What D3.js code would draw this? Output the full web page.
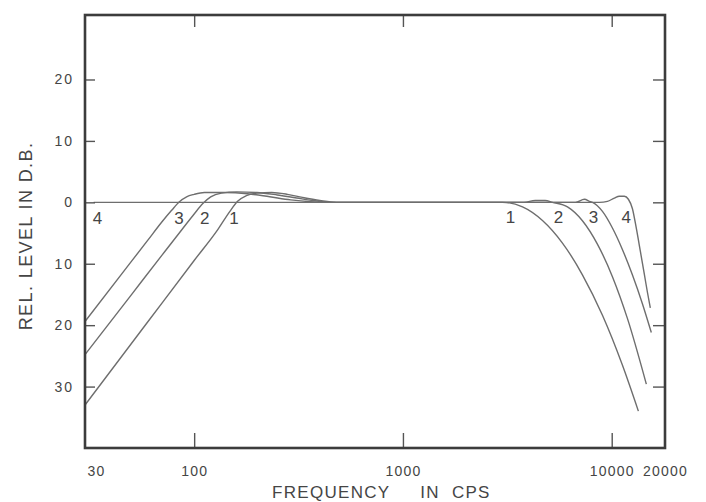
<!DOCTYPE html>
<html>
<head>
<meta charset="utf-8">
<script src="https://cdn.jsdelivr.net/npm/d3@7"></script>
<style>
  html, body { margin: 0; padding: 0; background: #fff; }
  svg { display: block; }
  text { font-family: "Liberation Sans", "DejaVu Sans", sans-serif; fill: #454545; }
</style>
</head>
<body>
<div id="chart"></div>
<script>
const width = 706;
const height = 502;

// axis values
const freqTicks = [30, 100, 1000, 10000, 20000];
const freqTickLabels = ["30", "100", "1000", "10000", "20000"];
const innerFreqTicks = [100, 1000, 10000];
const dbTicks = [20, 10, 0, -10, -20, -30];
const dbTickLabels = ["20", "10", "0", "10", "20", "30"];

// response curves, [frequency in cps, level in dB]
const curve1 = [
  [30, -33], [60, -19.45], [100, -9.47], [130, -4.4], [148, -1.5], [162, 0.2], [178, 1.1],
  [200, 1.5], [235, 1.6], [280, 1.3], [330, 0.8], [400, 0.3], [480, 0], [3000, 0],
  [3740, -0.73], [4660, -2.95], [5810, -6.63], [7240, -11.8], [9030, -18.4],
  [11250, -26.5], [13420, -34.0]
];
const curve2 = [
  [30, -24.8], [50, -15.06], [70, -8.64], [88, -4.3], [100, -1.9], [110, -0.2], [120, 0.9],
  [135, 1.5], [160, 1.7], [200, 1.6], [250, 1.2], [310, 0.7], [380, 0.25], [450, 0],
  [3800, 0], [4300, 0.3], [4800, 0.3], [5200, 0], [6140, -0.75], [7240, -3.0],
  [8540, -6.8], [10080, -12.1], [11890, -18.9], [14650, -29.6]
];
const curve3 = [
  [30, -19.4], [45, -11.65], [60, -6.16], [70, -3.2], [78, -1.3], [85, 0.1], [92, 0.9],
  [100, 1.3], [112, 1.6], [140, 1.6], [180, 1.4], [230, 0.9], [290, 0.4], [360, 0.1],
  [420, 0], [6700, 0], [7400, 0.5], [7900, 0.1], [8090, 0], [9030, -1.48],
  [10080, -4.18], [11250, -7.67], [12560, -11.8], [14030, -16.5], [15480, -21.2]
];
const curve4 = [
  [33, 0], [8735, 0], [9540, 0.15], [10300, 0.7], [10880, 1.0], [11500, 1.0],
  [12020, 0.5], [12560, -1.0], [13130, -4.3], [13720, -8.0], [14330, -11.7],
  [14820, -14.6], [15310, -17.2]
];
const curves = [curve1, curve2, curve3, curve4];

// curve numbers written on the chart
const labelText = ["4", "3", "2", "1", "1", "2", "3", "4"];
const labelFreq = [34.4, 84.5, 112.5, 155, 3275, 5560, 8170, 11750];
const labelDb = [-2.7, -2.7, -2.7, -2.7, -2.4, -2.4, -2.4, -2.4];

const x = d3.scaleLog().domain([30, 18000]).range([85, 665]).clamp(true);
const y = d3.scaleLinear().domain([-40, 30.5]).range([448, 15]);

const svg = d3.select("#chart")
  .append("svg")
  .attr("width", width)
  .attr("height", height)
  .attr("viewBox", `0 0 ${width} ${height}`);

const line = d3.line()
  .curve(d3.curveMonotoneX)
  .x(d => x(d[0]))
  .y(d => y(d[1]));

svg.append("g")
  .selectAll("path")
  .data(curves)
  .join("path")
  .attr("d", line)
  .attr("fill", "none")
  .attr("stroke", "#6e6e6e")
  .attr("stroke-width", 1.4);

// inner tick marks on all four sides
function styleTicks(g) {
  g.select(".domain").remove();
  g.selectAll(".tick line").attr("stroke", "#555").attr("stroke-width", 1.4);
}

svg.append("g")
  .attr("transform", `translate(0,${y.range()[0]})`)
  .call(d3.axisBottom(x).tickValues(innerFreqTicks).tickFormat("").tickSizeInner(-15).tickSizeOuter(0))
  .call(styleTicks);

svg.append("g")
  .attr("transform", `translate(0,${y.range()[1]})`)
  .call(d3.axisTop(x).tickValues(innerFreqTicks).tickFormat("").tickSizeInner(-12).tickSizeOuter(0))
  .call(styleTicks);

svg.append("g")
  .attr("transform", `translate(${x.range()[0]},0)`)
  .call(d3.axisLeft(y).tickValues(dbTicks).tickFormat("").tickSizeInner(-10).tickSizeOuter(0))
  .call(styleTicks);

svg.append("g")
  .attr("transform", `translate(${x.range()[1]},0)`)
  .call(d3.axisRight(y).tickValues(dbTicks).tickFormat("").tickSizeInner(-12).tickSizeOuter(0))
  .call(styleTicks);

// tick labels
const xLab = svg.append("g")
  .attr("transform", `translate(0,${y.range()[0]})`)
  .call(d3.axisBottom(x).tickValues(freqTicks).tickFormat((d, i) => freqTickLabels[i]).tickSize(0).tickPadding(18));
xLab.select(".domain").remove();
xLab.selectAll("text")
  .attr("font-size", 14)
  .attr("letter-spacing", 1.2)
  .attr("font-family", null)
  .attr("fill", null);
xLab.select(".tick text").attr("text-anchor", "start").attr("dx", 2);

const yLab = svg.append("g")
  .attr("transform", `translate(${x.range()[0]},0)`)
  .call(d3.axisLeft(y).tickValues(dbTicks).tickFormat((d, i) => dbTickLabels[i]).tickSize(0).tickPadding(11));
yLab.select(".domain").remove();
yLab.selectAll("text")
  .attr("font-size", 14)
  .attr("letter-spacing", 2)
  .attr("font-family", null)
  .attr("fill", null);

// frame
svg.append("rect")
  .attr("x", x.range()[0])
  .attr("y", y.range()[1])
  .attr("width", x.range()[1] - x.range()[0])
  .attr("height", y.range()[0] - y.range()[1])
  .attr("fill", "none")
  .attr("stroke", "#3c3c3c")
  .attr("stroke-width", 2.6);

// curve numbers
svg.append("g")
  .selectAll("text")
  .data(labelText)
  .join("text")
  .attr("x", (d, i) => x(labelFreq[i]))
  .attr("y", (d, i) => y(labelDb[i]))
  .attr("text-anchor", "middle")
  .attr("dominant-baseline", "central")
  .attr("font-size", 17)
  .text(d => d);

// axis titles
svg.append("text")
  .attr("transform", "translate(26,236) rotate(-90)")
  .attr("text-anchor", "middle")
  .attr("dominant-baseline", "central")
  .attr("font-size", 18)
  .attr("letter-spacing", 1.4)
  .text("REL. LEVEL IN D.B.");

svg.append("text")
  .attr("x", 272)
  .attr("y", 498)
  .attr("font-size", 17)
  .attr("letter-spacing", 1.3)
  .style("white-space", "pre")
  .text("FREQUENCY     IN  CPS");
</script>
</body>
</html>
